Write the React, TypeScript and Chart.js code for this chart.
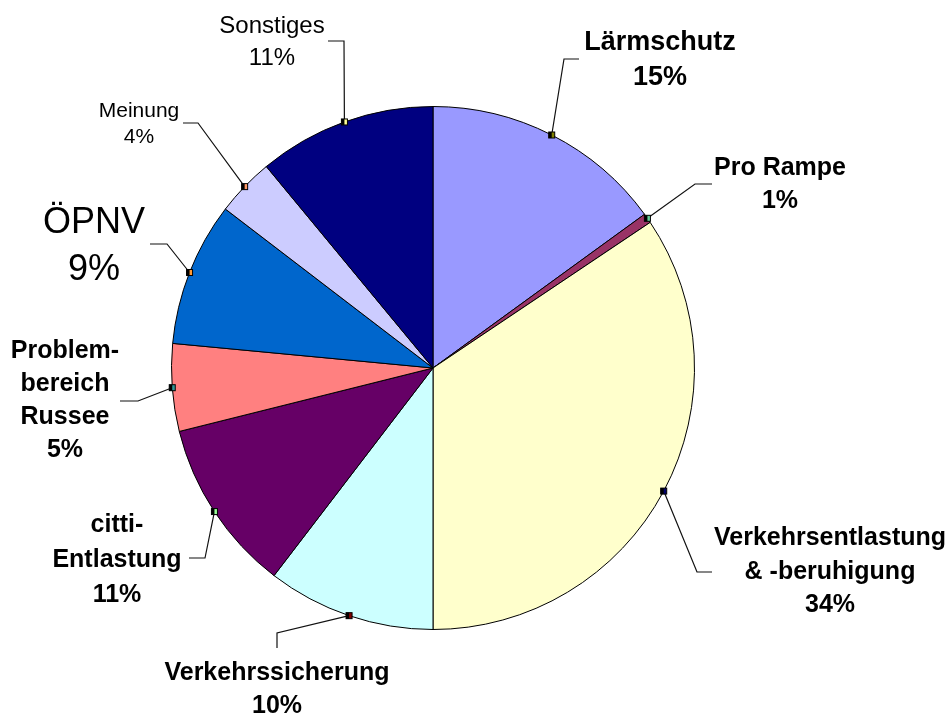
import React, { useEffect, useRef } from "react";
import { Chart, registerables } from "chart.js";

Chart.register(...registerables);

// ---- data ----
const categories = [
  "Lärmschutz",
  "Pro Rampe",
  "Verkehrsentlastung & -beruhigung",
  "Verkehrssicherung",
  "citti-Entlastung",
  "Problembereich Russee",
  "ÖPNV",
  "Meinung",
  "Sonstiges",
];
const values = [15.0, 0.6, 34.4, 10.4, 10.7, 5.4, 8.9, 3.6, 11.0];
const percentLabels = ["15%", "1%", "34%", "10%", "11%", "5%", "9%", "4%", "11%"];
const labelLines = [
  ["Lärmschutz"],
  ["Pro Rampe"],
  ["Verkehrsentlastung", "& -beruhigung"],
  ["Verkehrssicherung"],
  ["citti-", "Entlastung"],
  ["Problem-", "bereich", "Russee"],
  ["ÖPNV"],
  ["Meinung"],
  ["Sonstiges"],
];

// ---- styles ----
const sliceColors = [
  "#9999FF",
  "#993366",
  "#FFFFCC",
  "#CCFFFF",
  "#660066",
  "#FF8080",
  "#0066CC",
  "#CCCCFF",
  "#000080",
];
const markerColors = [
  "#808000",
  "#66CC99",
  "#000066",
  "#800000",
  "#99FF99",
  "#339999",
  "#FF9933",
  "#FF9966",
  "#FFFF99",
];
const FONT = '"Liberation Sans", Arial, sans-serif';
// label layout, offsets from pie centre: text centre x, first baseline y, line spacing,
// leader end point and elbow point
const labelLayout = [
  { font: `bold 27px ${FONT}`, tx: 227, ty: -318, lh: 35, end: [146, -309], elbow: [131, -309] },
  { font: `bold 25px ${FONT}`, tx: 347, ty: -193, lh: 33, end: [279, -184], elbow: [262, -184] },
  { font: `bold 25px ${FONT}`, tx: 397, ty: 177, lh: 33.5, end: [279, 204], elbow: [264, 204] },
  { font: `bold 25px ${FONT}`, tx: -156, ty: 312, lh: 33, end: [-156, 280], elbow: [-156, 265] },
  { font: `bold 25px ${FONT}`, tx: -316, ty: 164, lh: 35, end: [-244, 190], elbow: [-228, 190] },
  { font: `bold 25px ${FONT}`, tx: -368, ty: -10, lh: 33, end: [-313, 33], elbow: [-295, 33] },
  { font: `36px ${FONT}`, tx: -339, ty: -135, lh: 47, end: [-283, -124], elbow: [-266, -124] },
  { font: `21px ${FONT}`, tx: -294, ty: -251, lh: 26, end: [-250, -245], elbow: [-235, -245] },
  { font: `24px ${FONT}`, tx: -161, ty: -335, lh: 32, end: [-105, -327], elbow: [-89, -327] },
];

const labelPlugin = {
  id: "pieLabels",
  afterDatasetsDraw(chart: any) {
    const ctx = chart.ctx;
    const meta = chart.getDatasetMeta(0);
    ctx.save();
    meta.data.forEach((arc: any, i: number) => {
      const p = arc.getProps(["x", "y", "startAngle", "endAngle", "outerRadius"], true);
      const mid = (p.startAngle + p.endAngle) / 2;
      const ax = p.x + Math.cos(mid) * p.outerRadius;
      const ay = p.y + Math.sin(mid) * p.outerRadius;
      const L = labelLayout[i];
      // leader line
      ctx.strokeStyle = "#111";
      ctx.lineWidth = 1.2;
      ctx.beginPath();
      ctx.moveTo(p.x + L.end[0], p.y + L.end[1]);
      ctx.lineTo(p.x + L.elbow[0], p.y + L.elbow[1]);
      ctx.lineTo(ax, ay);
      ctx.stroke();
      // marker
      ctx.fillStyle = markerColors[i];
      ctx.fillRect(ax - 3, ay - 3, 6, 6);
      ctx.fillStyle = "#000";
      ctx.fillRect(ax - 3, ay - 3, 3, 6);
      ctx.lineWidth = 1;
      ctx.strokeStyle = "#000";
      ctx.strokeRect(ax - 3, ay - 3, 6, 6);
      // text
      ctx.fillStyle = "#000";
      ctx.font = L.font;
      ctx.textAlign = "center";
      ctx.textBaseline = "alphabetic";
      const lines = [...labelLines[i], percentLabels[i]];
      lines.forEach((t, k) => {
        ctx.fillText(t, p.x + L.tx, p.y + L.ty + k * L.lh);
      });
    });
    ctx.restore();
  },
};

export default function App() {
  const ref = useRef<HTMLCanvasElement | null>(null);
  useEffect(() => {
    if (!ref.current) return;
    const chart = new Chart(ref.current, {
      type: "pie",
      data: {
        labels: categories,
        datasets: [
          {
            data: values,
            backgroundColor: sliceColors,
            borderColor: "#000",
            borderWidth: 1,
          },
        ],
      },
      options: {
        responsive: false,
        animation: false,
        events: [],
        layout: { padding: { left: 171, right: 254, top: 106, bottom: 85 } },
        plugins: {
          legend: { display: false },
          tooltip: { enabled: false },
        },
      },
      plugins: [labelPlugin],
    });
    return () => chart.destroy();
  }, []);
  return (
    <div style={{ position: "absolute", left: 0, top: 0, width: 949, height: 715, background: "#fff" }}>
      <canvas ref={ref} width={949} height={715} style={{ display: "block" }} />
    </div>
  );
}
